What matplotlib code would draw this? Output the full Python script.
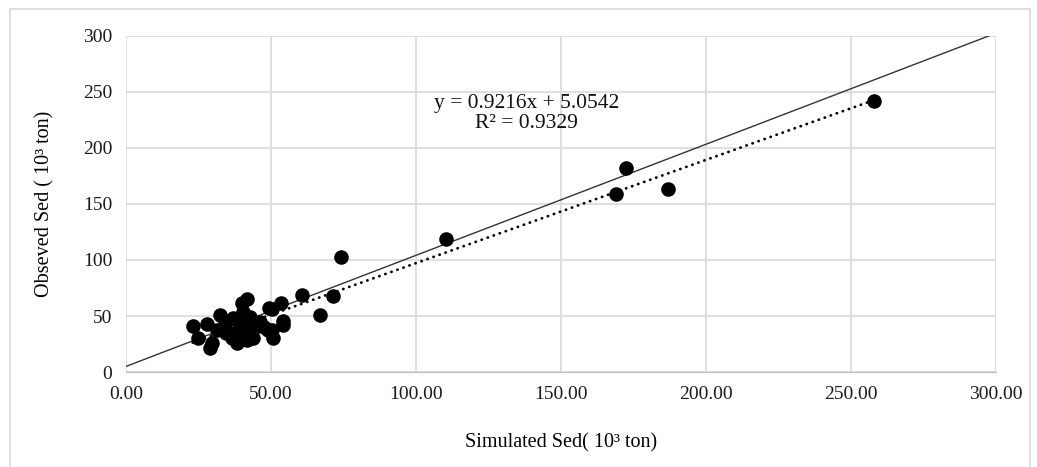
import matplotlib
matplotlib.use("Agg")
import matplotlib.pyplot as plt
import numpy as np
from matplotlib.patches import Rectangle

# simulated (x) vs observed (y) sediment, 10^3 ton
simulated = [258.0, 172.5, 169.0, 187.0, 110.5, 74.0, 60.6, 71.5, 66.8,
             53.5, 54.0, 54.0, 50.2, 50.4, 50.8, 49.4,
             23.0, 25.0, 27.8, 29.0, 29.5, 32.4, 31.3, 39.9, 41.8, 38.2,
             41.6, 43.9, 35.9, 39.3, 42.8, 46.2, 49.1, 34.1, 37.0, 40.4,
             37.6, 41.0, 42.9, 34.5, 33.3, 36.5, 38.8, 44.5, 40.0, 47.5]
observed = [242.0, 182.5, 159.0, 163.5, 119.0, 102.4, 68.8, 67.9, 51.0,
            61.3, 45.5, 42.0, 56.0, 37.5, 30.0, 56.9,
            41.3, 30.0, 42.5, 21.0, 26.0, 51.0, 37.5, 61.3, 65.0, 25.6,
            28.6, 30.0, 34.5, 40.4, 49.4, 45.0, 37.5, 43.5, 48.0, 53.8,
            33.0, 36.0, 37.5, 34.5, 37.5, 30.0, 44.0, 40.0, 47.0, 40.5]

slope = 0.9216
intercept = 5.0542
r2 = 0.9329

ref_x = [0, 300]
ref_y = [5, 302.5]

x_ticks = [0, 50, 100, 150, 200, 250, 300]
y_ticks = [0, 50, 100, 150, 200, 250, 300]

plt.rcParams['font.family'] = ['Liberation Serif', 'DejaVu Serif']

fig = plt.figure(figsize=(10.37, 4.67), dpi=100)
ax = fig.add_axes([0.1215, 0.2034, 0.8390, 0.7196])

# outer chart frame
fig.patches.append(Rectangle((10 / 1037, -0.05), 1020 / 1037, 1.05 - 9 / 467,
                             transform=fig.transFigure, fill=False,
                             edgecolor='#d9d9d9', linewidth=1.2))

ax.set_xlim(0, 300)
ax.set_ylim(0, 300)
ax.set_xticks(x_ticks)
ax.set_yticks(y_ticks)
ax.set_xticklabels([f"{t:.2f}" for t in x_ticks])
ax.set_yticklabels([str(t) for t in y_ticks])
ax.grid(True, color='#d9d9d9', linewidth=1.2)
ax.set_axisbelow(True)
for side in ['top', 'right', 'left']:
    ax.spines[side].set_visible(False)
ax.spines['bottom'].set_color('#bfbfbf')
ax.tick_params(length=0, labelsize=14, pad=10, colors='#1a1a1a')

ax.plot(ref_x, ref_y, color='#333333', linewidth=1.0, zorder=2)

trend_x = np.array([min(simulated), max(simulated)])
ax.plot(trend_x, slope * trend_x + intercept, color='black', linewidth=2.0,
        linestyle=(0, (0.1, 2.2)), dash_capstyle='round', zorder=2)

ax.scatter(simulated, observed, s=110, color='black', zorder=3, linewidths=0)

ax.text(138, 231, f"y = {slope}x + {intercept}\nR² = {r2}", fontsize=15.5,
        ha='center', va='center', linespacing=1.05, color='#111111')

ax.set_xlabel("Simulated Sed( 10³ ton)", fontsize=14.5, labelpad=22)
ax.set_ylabel("Obseved Sed ( 10³ ton)", fontsize=14.5, labelpad=20)

fig.savefig("out.png", dpi=100)
